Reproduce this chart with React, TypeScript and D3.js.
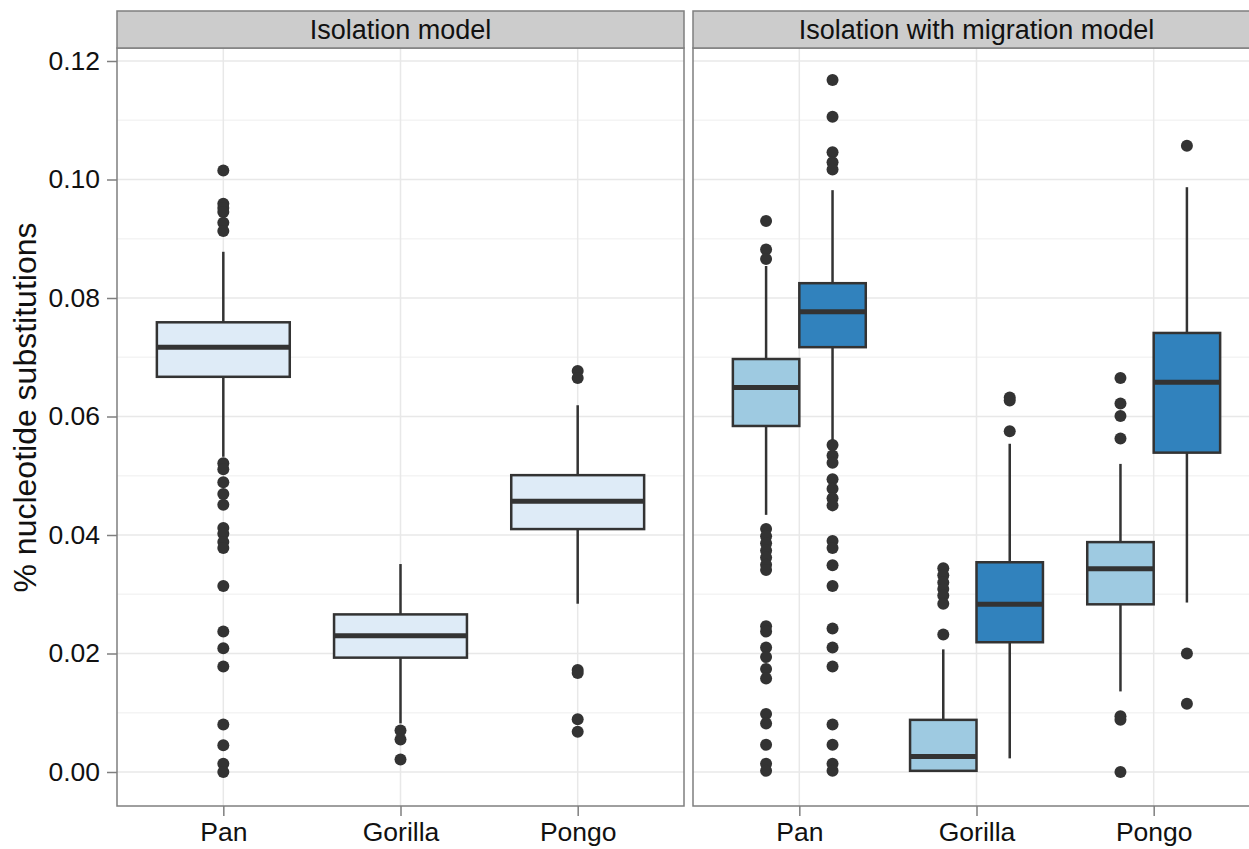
import React, { useEffect, useRef } from "react";
import * as d3 from "d3";

const species = ["Pan", "Gorilla", "Pongo"];
const panelTitles = ["Isolation model", "Isolation with migration model"];
const yTicks = [0, 0.02, 0.04, 0.06, 0.08, 0.1, 0.12];
const yMinor = [0.01, 0.03, 0.05, 0.07, 0.09, 0.11];

// [lower whisker, q1, median, q3, upper whisker]
const isoStats = [
  [0.0532, 0.0667, 0.0717, 0.0759, 0.0878],
  [0.0082, 0.0193, 0.023, 0.0266, 0.0351],
  [0.0284, 0.041, 0.0457, 0.0501, 0.0619]
];
const isoOutliers = [
  [0.1015, 0.0959, 0.0952, 0.0945, 0.0927, 0.0913, 0.0521, 0.0511, 0.0489, 0.0469, 0.0451,
    0.0412, 0.0402, 0.0388, 0.0378, 0.0314, 0.0237, 0.0209, 0.0178, 0.008, 0.0045, 0.0014, 0.0],
  [0.007, 0.0055, 0.0021],
  [0.0677, 0.0665, 0.0172, 0.0167, 0.0089, 0.0068]
];

const migLightStats = [
  [0.0434, 0.0584, 0.0649, 0.0697, 0.0854],
  [0.0002, 0.0002, 0.0026, 0.0088, 0.0207],
  [0.0136, 0.0283, 0.0343, 0.0388, 0.052]
];
const migLightOutliers = [
  [0.093, 0.0882, 0.0866, 0.041, 0.0398, 0.0386, 0.0374, 0.0362, 0.035, 0.0341, 0.0246,
    0.0237, 0.021, 0.0194, 0.0174, 0.0158, 0.0098, 0.0082, 0.0046, 0.0014, 0.0002],
  [0.0344, 0.0332, 0.032, 0.0309, 0.0298, 0.0284, 0.0232],
  [0.0665, 0.0622, 0.0601, 0.0563, 0.0094, 0.0088, 0.0]
];

const migDarkStats = [
  [0.0558, 0.0717, 0.0777, 0.0825, 0.0982],
  [0.0023, 0.0219, 0.0283, 0.0354, 0.0554],
  [0.0286, 0.0539, 0.0658, 0.0741, 0.0987]
];
const migDarkOutliers = [
  [0.1168, 0.1106, 0.1046, 0.1029, 0.1017, 0.0552, 0.0534, 0.0522, 0.0494, 0.0478, 0.0462,
    0.045, 0.039, 0.0378, 0.0349, 0.0314, 0.0242, 0.021, 0.0178, 0.008, 0.0046, 0.0014, 0.0002],
  [0.0632, 0.0627, 0.0575],
  [0.1057, 0.02, 0.0115]
];

const W = 1249;
const H = 849;
const FONT = "'Liberation Sans', Arial, Helvetica, sans-serif";

export default function App() {
  const ref = useRef<SVGSVGElement>(null);

  useEffect(() => {
    const svg = d3.select(ref.current);
    svg.selectAll("*").remove();

    const top = 11;
    const stripH = 37;
    const panelTop = top + stripH;
    const panelBottom = 806;
    const panelW = 567;
    const panelX = [117, 693];

    const y = d3.scaleLinear().domain([0, 0.12]).range([772, 61]);

    // series for each panel
    const panelSeries = [
      [{ stats: isoStats, outliers: isoOutliers, fill: "#deebf7" }],
      [
        { stats: migLightStats, outliers: migLightOutliers, fill: "#9ecae1" },
        { stats: migDarkStats, outliers: migDarkOutliers, fill: "#3182bd" }
      ]
    ];

    panelX.forEach((px, pi) => {
      const x = d3.scalePoint<string>().domain(species).range([px, px + panelW]).padding(0.6);
      const step = x.step();
      const series = panelSeries[pi];
      const dodge = d3
        .scaleBand<number>()
        .domain(d3.range(series.length))
        .range([-step * 0.375, step * 0.375]);

      const g = svg.append("g");

      g.append("rect")
        .attr("x", px).attr("y", panelTop)
        .attr("width", panelW).attr("height", panelBottom - panelTop)
        .attr("fill", "#fff");

      // minor grid
      g.selectAll(".minor").data(yMinor).join("line")
        .attr("x1", px).attr("x2", px + panelW)
        .attr("y1", d => y(d)).attr("y2", d => y(d))
        .attr("stroke", "#f4f4f4").attr("stroke-width", 1.5);

      // major grid
      g.selectAll(".majorY").data(yTicks).join("line")
        .attr("x1", px).attr("x2", px + panelW)
        .attr("y1", d => y(d)).attr("y2", d => y(d))
        .attr("stroke", "#e8e8e8").attr("stroke-width", 1.5);
      g.selectAll(".majorX").data(species).join("line")
        .attr("x1", d => x(d)!).attr("x2", d => x(d)!)
        .attr("y1", panelTop).attr("y2", panelBottom)
        .attr("stroke", "#e8e8e8").attr("stroke-width", 1.5);

      series.forEach((s, si) => {
        const bw = dodge.bandwidth();
        species.forEach((sp, ci) => {
          const cx = x(sp)! + dodge(si)! + bw / 2;
          const [lo, q1, med, q3, hi] = s.stats[ci];
          const bg = g.append("g");
          bg.append("line")
            .attr("x1", cx).attr("x2", cx)
            .attr("y1", y(hi)).attr("y2", y(q3))
            .attr("stroke", "#333").attr("stroke-width", 2.5);
          bg.append("line")
            .attr("x1", cx).attr("x2", cx)
            .attr("y1", y(q1)).attr("y2", y(lo))
            .attr("stroke", "#333").attr("stroke-width", 2.5);
          bg.append("rect")
            .attr("x", cx - bw / 2).attr("y", y(q3))
            .attr("width", bw).attr("height", y(q1) - y(q3))
            .attr("fill", s.fill).attr("stroke", "#333").attr("stroke-width", 2.5);
          bg.append("line")
            .attr("x1", cx - bw / 2).attr("x2", cx + bw / 2)
            .attr("y1", y(med)).attr("y2", y(med))
            .attr("stroke", "#333").attr("stroke-width", 5);
          bg.selectAll("circle").data(s.outliers[ci]).join("circle")
            .attr("cx", cx).attr("cy", d => y(d)).attr("r", 6)
            .attr("fill", "#333");
        });
      });

      // panel border
      g.append("rect")
        .attr("x", px).attr("y", panelTop)
        .attr("width", panelW).attr("height", panelBottom - panelTop)
        .attr("fill", "none").attr("stroke", "#7f7f7f").attr("stroke-width", 1.5);

      // strip
      g.append("rect")
        .attr("x", px).attr("y", top)
        .attr("width", panelW).attr("height", stripH)
        .attr("fill", "#cccccc").attr("stroke", "#7f7f7f").attr("stroke-width", 1.5);
      g.append("text")
        .attr("x", px + panelW / 2).attr("y", top + stripH / 2 + 9.5)
        .attr("text-anchor", "middle")
        .attr("font-family", FONT).attr("font-size", 27).attr("fill", "#111")
        .text(panelTitles[pi]);

      // x axis
      const xAxis = g.append("g").attr("transform", `translate(0,${panelBottom})`)
        .call(d3.axisBottom(x).tickSize(10).tickPadding(6));
      xAxis.select(".domain").remove();
      xAxis.selectAll("line").attr("stroke", "#7f7f7f").attr("stroke-width", 1.5);
      xAxis.selectAll("text")
        .attr("font-family", FONT).attr("font-size", 26.5).attr("fill", "#111");
    });

    // y axis
    const yAxis = svg.append("g").attr("transform", `translate(${panelX[0]},0)`)
      .call(d3.axisLeft(y).tickValues(yTicks).tickFormat(d3.format(".2f")).tickSize(10).tickPadding(7));
    yAxis.select(".domain").remove();
    yAxis.selectAll("line").attr("stroke", "#7f7f7f").attr("stroke-width", 1.5);
    yAxis.selectAll("text")
      .attr("font-family", FONT).attr("font-size", 26.5).attr("fill", "#111");

    svg.append("text")
      .attr("transform", `translate(36,${(215 + 600) / 2}) rotate(-90)`)
      .attr("text-anchor", "middle")
      .attr("font-family", FONT).attr("font-size", 32).attr("fill", "#111")
      .text("% nucleotide substitutions");
  }, []);

  return (
    <svg
      ref={ref}
      width={W}
      height={H}
      style={{ position: "absolute", left: 0, top: 0, background: "#fff" }}
    />
  );
}
